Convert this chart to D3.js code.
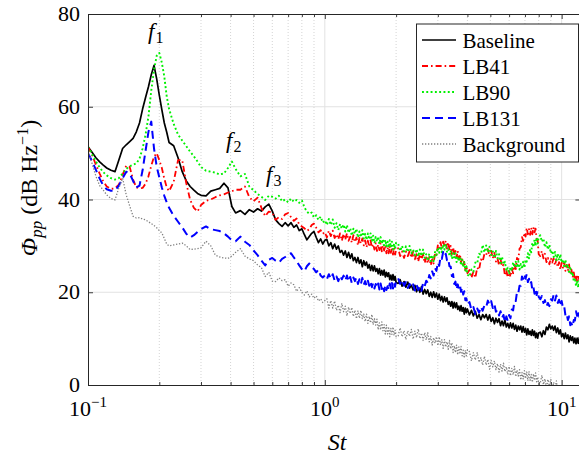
<!DOCTYPE html>
<html>
<head>
<meta charset="utf-8">
<script src="https://cdn.jsdelivr.net/npm/d3@7"></script>
<style>
  html, body { margin: 0; padding: 0; background: #fff; }
  svg { display: block; }
  text { font-family: "Liberation Serif", "Times New Roman", Tinos; }
</style>
</head>
<body>
<svg id="chart" width="579" height="455"></svg>
<script>
// Strouhal-number grid, low band (smooth part of the spectra)
const stLow = [
  0.100,0.104,0.108,0.112,0.116,0.120,0.125,0.130,0.135,0.140,
  0.145,0.150,0.155,0.160,0.165,0.170,0.175,0.180,0.185,0.190,
  0.195,0.200,0.205,0.210,0.215,0.220,0.230,0.240,0.250,0.260,
  0.270,0.280,0.290,0.300,0.315,0.330,0.345,0.360,0.375,0.390,
  0.405,0.420,0.440,0.460,0.480,0.500,0.520,0.540,0.560,0.580,
  0.600
];
// Strouhal-number grid, high band (broadband, noisy part)
const stHigh = [
  0.62,0.64,0.66,0.68,0.70,0.72,0.74,0.76,0.78,0.80,0.82,0.84,0.86,0.88,0.90,0.92,0.94,0.96,0.98,1.00,
  1.02,1.04,1.06,1.08,1.10,1.12,1.14,1.16,1.18,1.20,1.22,1.24,1.26,1.28,1.30,1.32,1.34,1.36,1.38,1.40,
  1.42,1.44,1.46,1.48,1.50,1.52,1.54,1.56,1.58,1.60,1.62,1.64,1.66,1.68,1.70,1.72,1.74,1.76,1.78,1.80,
  1.82,1.84,1.86,1.88,1.90,1.92,1.94,1.96,1.98,2.00,
  2.04,2.08,2.12,2.16,2.20,2.24,2.28,2.32,2.36,2.40,2.44,2.48,2.52,2.56,2.60,2.64,2.68,2.72,2.76,2.80,
  2.84,2.88,2.92,2.96,3.00,3.04,3.08,3.12,3.16,3.20,3.24,3.28,3.32,3.36,3.40,3.44,3.48,3.52,3.56,3.60,
  3.64,3.68,3.72,3.76,3.80,3.84,3.88,3.92,3.96,4.00,
  4.08,4.16,4.24,4.32,4.40,4.48,4.56,4.64,4.72,4.80,4.88,4.96,5.04,5.12,5.20,5.28,5.36,5.44,5.52,5.60,
  5.68,5.76,5.84,5.92,6.00,6.08,6.16,6.24,6.32,6.40,6.48,6.56,6.64,6.72,6.80,6.88,6.96,7.04,7.12,7.20,
  7.28,7.36,7.44,7.52,7.60,7.68,7.76,7.84,7.92,8.00,
  8.125,8.25,8.375,8.5,8.625,8.75,8.875,9.0,9.125,9.25,9.375,9.5,9.625,9.75,9.875,10.0,
  10.125,10.25,10.375,10.5,10.625,10.75,10.875,11.0,11.125,11.25,11.375,11.5,11.625,11.75,11.875,12.0
];

// Pressure spectra, dB/Hz
const baselineLow = [
  51.4,50.2,49.0,48.1,47.4,46.8,46.3,46.0,48.5,51.0,
  51.8,52.5,53.2,54.6,56.5,59.5,62.0,64.3,66.9,68.9,
  66.0,62.5,59.4,56.5,54.5,52.3,51.6,49.0,46.0,44.0,
  42.8,42.0,41.3,40.9,40.8,41.8,42.1,42.4,43.5,42.5,
  38.5,37.1,37.6,36.8,37.8,37.3,38.0,37.5,38.4,39.0,
  37.5
];
const baselineHigh = [
  35.6,34.8,34.2,35.0,34.3,35.0,34.0,34.5,33.3,33.7,32.4,31.3,32.0,32.7,33.1,31.8,30.7,31.5,30.4,31.2,
  31.4,30.0,30.7,29.4,30.4,29.3,30.0,28.6,29.0,28.0,28.9,27.5,28.6,27.3,28.3,26.8,27.5,26.4,27.5,26.2,
  27.0,25.5,26.8,25.8,26.5,25.2,26.0,24.7,25.8,24.6,25.7,24.5,25.1,24.0,25.1,23.7,24.7,23.7,24.8,23.3,
  24.3,23.4,24.2,22.7,23.7,22.6,23.8,22.6,23.4,22.1,
  21.9,22.7,21.3,22.3,21.1,22.2,20.9,21.5,20.5,21.5,20.1,21.0,20.0,21.2,19.6,20.6,19.7,20.5,19.1,20.0,
  18.9,20.1,18.9,19.8,18.5,19.6,18.2,19.1,17.9,19.0,18.0,18.8,17.4,18.0,17.0,18.0,16.6,17.8,16.7,17.7,
  16.3,17.0,16.0,17.1,15.9,16.7,15.3,16.6,15.6,16.4,
  15.1,16.1,14.9,15.9,14.4,15.2,14.1,15.2,14.5,15.2,14.0,15.1,13.7,14.5,13.2,14.4,13.5,14.3,12.8,13.8,
  12.8,14.0,12.5,13.3,12.3,13.4,12.3,13.3,12.0,12.9,11.6,12.7,11.9,12.7,11.4,12.6,11.4,12.2,10.8,12.1,
  10.9,11.6,10.7,11.9,10.7,11.6,10.2,11.2,10.1,11.2,
  11.4,10.4,11.7,10.9,12.5,11.9,13.1,12.1,12.7,11.8,12.7,11.3,12.3,11.0,11.9,10.4,
  11.1,10.0,11.2,10.0,10.8,9.3,10.6,9.6,10.4,9.1,10.1,8.9,10.1,9.0,10.2,9.0
];

const lb41Low = [
  51.4,49.6,47.5,45.6,43.9,42.8,42.3,42.4,43.2,45.3,
  47.3,47.0,44.3,42.6,42.4,42.5,43.4,45.0,47.3,49.2,
  50.0,48.5,46.8,44.5,42.6,41.8,43.8,48.5,48.5,43.5,
  39.9,38.2,37.4,38.8,39.7,40.0,40.5,40.9,41.1,41.5,
  41.8,42.1,42.1,42.8,40.5,39.6,40.4,38.2,36.4,37.4,
  37.2
];
const lb41High = [
  35.6,36.2,35.8,36.8,37.1,36.2,35.4,35.9,34.6,34.2,33.8,33.2,33.6,34.5,34.8,33.9,32.9,33.4,32.6,33.0,
  31.8,33.3,32.1,33.3,31.7,32.5,31.4,32.7,31.1,32.6,31.3,32.7,31.1,32.0,30.7,32.3,30.8,31.8,30.1,31.7,
  30.5,31.6,30.1,31.2,29.7,31.1,29.8,31.2,29.7,30.4,29.2,30.6,28.9,30.3,29.1,30.6,28.8,30.1,29.0,30.1,
  28.4,29.7,28.4,30.0,28.5,29.7,28.1,29.6,28.1,29.2,
  29.5,27.8,28.8,27.4,28.8,27.8,28.8,27.4,28.8,27.1,28.2,26.6,28.2,27.1,28.2,26.3,27.5,26.2,27.6,25.8,
  27.1,26.2,28.4,28.0,30.1,29.4,30.8,29.4,30.9,30.1,31.1,29.4,30.8,29.1,30.0,28.2,29.7,28.2,28.9,27.5,
  28.9,27.3,28.2,26.4,27.5,25.8,26.8,24.7,25.7,24.1,
  24.8,23.1,24.4,23.1,25.3,24.8,27.1,26.6,28.3,28.0,29.3,27.7,28.9,27.3,28.5,26.6,27.3,25.8,27.2,25.5,
  25.9,23.6,24.8,23.2,24.6,23.3,25.0,24.1,25.9,25.0,27.4,27.0,29.4,29.7,31.9,31.1,32.8,32.0,33.9,32.5,
  33.6,32.4,33.9,32.5,34.0,32.9,33.7,31.5,31.2,28.2,
  27.8,28.9,27.3,28.3,26.5,27.4,26.0,27.4,26.4,27.3,25.8,27.1,25.4,26.5,24.9,26.4,
  25.3,26.4,24.6,25.9,24.6,26.0,24.1,24.9,23.2,24.3,22.7,23.7,22.4,23.8,22.5,24.1
];

const lb90Low = [
  51.4,49.8,48.2,46.9,45.9,45.2,44.6,44.3,44.6,45.6,
  46.6,47.2,47.5,47.8,48.8,51.0,54.0,57.9,63.5,68.0,
  71.0,71.6,69.5,66.5,62.2,59.5,56.3,54.0,52.7,51.5,
  50.3,49.3,48.2,47.0,46.2,46.0,45.8,45.4,45.6,46.8,
  48.2,46.6,45.0,45.5,42.8,42.0,41.2,40.6,39.9,40.8,
  40.6
];
const lb90High = [
  40.2,40.8,39.6,40.0,39.4,40.2,39.5,39.9,39.3,39.8,38.3,37.4,36.9,37.2,36.1,36.6,35.6,36.3,35.0,35.5,
  34.5,35.8,34.5,35.7,33.9,34.9,33.4,34.7,33.7,34.6,33.1,34.5,32.8,33.8,32.2,33.7,32.6,33.7,31.8,33.1,
  31.9,33.4,31.6,32.6,31.3,32.7,31.4,32.7,31.1,32.2,30.6,31.9,30.9,32.0,30.4,31.9,30.4,31.4,29.7,31.3,
  29.9,30.9,29.6,31.2,29.7,30.9,29.2,30.5,29.3,30.7,
  30.5,28.9,30.0,28.4,29.9,28.7,30.0,28.4,29.2,28.0,29.3,27.7,29.2,27.8,29.2,27.4,28.2,26.8,28.3,26.7,
  28.0,26.7,28.7,28.0,29.6,28.5,29.9,28.6,30.3,29.2,30.4,28.7,29.3,27.8,29.0,27.2,28.4,27.1,28.4,26.5,
  27.7,26.6,27.6,25.8,27.0,25.4,26.5,24.7,25.6,23.8,
  23.4,24.9,24.4,26.4,26.2,28.3,28.1,30.2,28.6,30.1,28.6,29.8,28.0,28.8,27.4,28.9,27.3,28.2,26.3,27.7,
  26.0,26.6,24.6,25.3,23.9,25.4,24.6,26.5,25.4,26.6,25.3,26.7,24.9,26.1,25.0,26.6,25.3,27.0,26.6,28.4,
  27.3,29.3,28.6,30.7,29.7,31.3,30.0,31.8,30.5,31.9,
  32.3,30.9,31.6,29.7,30.8,29.2,30.2,28.4,29.0,27.6,28.7,26.9,28.3,26.9,28.2,26.4,
  27.1,25.6,27.0,25.3,26.0,24.0,25.2,23.6,24.3,22.3,23.1,21.3,22.5,21.0,22.5,21.1
];

const lb131Low = [
  50.0,48.3,46.4,44.5,43.0,42.2,41.9,41.9,43.0,44.6,
  46.0,45.6,44.0,42.6,43.0,46.3,50.5,54.6,56.8,51.0,
  47.1,44.8,42.6,40.8,39.4,38.2,36.5,35.2,34.0,32.6,
  31.8,32.3,33.0,33.6,34.2,33.6,33.4,33.2,32.7,32.0,
  31.2,31.0,32.0,30.9,30.2,29.0,28.0,26.8,25.8,27.0,
  27.4
];
const lb131High = [
  26.8,26.4,27.2,27.6,28.2,28.4,27.5,26.7,25.8,25.0,24.5,25.6,26.2,25.4,25.0,24.3,24.9,23.6,23.2,23.6,
  22.8,23.9,22.9,23.9,22.5,23.4,22.4,23.6,22.8,23.6,22.5,23.6,22.3,23.3,22.0,23.2,22.4,23.2,21.8,22.8,
  21.8,23.1,21.6,22.4,21.4,22.5,21.4,22.4,21.1,22.0,20.8,21.8,21.0,21.9,20.6,21.9,20.7,21.5,20.2,21.5,
  20.5,21.3,20.5,21.9,20.8,22.0,20.8,22.1,21.2,22.6,
  23.0,21.8,22.7,21.4,22.2,20.9,21.8,21.0,21.7,20.4,21.6,20.5,21.3,20.3,22.0,21.3,22.5,22.0,23.7,23.0,
  24.5,23.6,25.2,24.6,26.4,25.7,27.6,27.2,28.7,27.8,28.3,26.9,27.2,25.6,25.5,23.5,23.9,21.8,22.3,20.6,
  21.7,20.8,21.5,20.1,21.0,19.5,20.2,18.3,18.7,17.3,
  17.9,16.2,16.8,15.3,16.5,15.6,16.9,16.0,17.2,16.8,18.2,17.3,18.1,16.6,17.4,15.8,16.2,15.0,15.9,14.5,
  15.1,13.5,14.8,13.8,15.1,14.4,16.3,16.1,18.2,18.1,20.1,19.8,21.4,21.4,23.4,22.9,23.9,22.9,23.9,22.2,
  22.9,21.7,22.2,20.5,21.1,19.7,20.7,19.4,20.3,19.0,
  18.5,19.2,17.7,18.3,16.9,17.7,17.0,18.5,18.2,19.4,18.2,19.3,17.7,18.4,17.0,18.1,
  16.7,17.0,15.0,15.4,14.0,14.8,12.9,13.3,12.6,14.0,13.9,15.9,14.9,16.1,14.7,15.6
];

const backgroundLow = [
  50.4,47.8,45.0,43.0,42.0,41.0,40.2,39.9,42.5,44.6,
  41.0,38.6,36.4,36.0,36.1,35.8,35.6,35.2,34.8,34.4,
  33.9,33.3,32.8,31.6,30.4,30.0,30.2,30.4,30.6,30.0,
  29.2,29.3,29.4,29.6,31.0,30.0,28.0,27.6,27.4,27.3,
  27.8,28.6,29.4,27.8,27.2,26.8,25.9,25.3,23.4,24.3,
  22.4
];
const backgroundHigh = [
  22.3,23.1,22.5,22.7,21.3,22.0,21.6,20.2,21.0,20.0,19.4,20.3,19.0,19.6,18.7,19.2,18.1,18.6,17.8,18.2,
  18.6,16.6,18.2,16.6,18.1,16.1,17.2,15.6,17.6,15.8,17.0,14.9,16.8,15.4,16.7,14.8,16.1,14.3,16.0,14.4,
  16.1,14.3,15.3,13.7,15.3,13.3,14.8,13.4,15.2,13.0,14.3,12.9,14.2,11.9,13.4,11.9,13.6,11.7,13.0,11.0,
  12.9,11.0,12.3,10.4,12.2,10.9,12.5,10.7,11.8,10.4,
  10.6,12.3,10.4,11.7,9.8,11.7,10.5,12.0,9.9,11.6,10.2,12.1,10.0,11.2,9.6,11.3,9.7,11.3,9.3,10.5,
  8.6,10.2,9.0,10.4,8.5,10.4,8.6,9.8,7.9,9.8,8.2,9.3,7.7,9.6,7.8,9.1,7.0,8.5,7.0,8.6,
  6.5,8.2,6.7,8.3,6.3,7.5,5.8,7.5,6.3,7.6,
  7.2,5.2,7.0,5.4,7.0,4.9,5.9,4.3,6.2,4.3,5.5,3.4,5.3,3.9,5.2,3.3,4.6,2.8,4.5,3.0,
  4.7,2.9,3.9,2.3,4.0,2.0,3.6,2.2,4.0,1.8,3.2,1.9,3.3,1.1,2.7,1.3,3.1,1.4,2.8,0.9,
  2.9,1.0,2.3,0.6,2.4,1.0,2.6,0.7,1.7,0.2,
  0.4,2.1,0.1,1.3,-0.7,1.2,-0.2,1.2,-1.0,0.6,-0.9,0.9,-1.3,-0.1,-1.8,-0.1,
  -1.7,-0.1,-2.1,-0.8,-2.8,-1.2,-2.5,-1.1,-3.1,-1.3,-3.2,-2.0,-4.0,-2.2,-3.9,-2.8
];

const seriesNames = ["Baseline", "LB41", "LB90", "LB131", "Background"];
const yTickValues = [0, 20, 40, 60, 80];
const xMajorTicks = [0.1, 1, 10];
const xMajorExponents = ["\u22121", "0", "1"];

// Line appearance for each series
const styles = {
  "Baseline":   { color: "#000000", width: 1.7, dash: null },
  "LB41":       { color: "#ff0000", width: 1.8, dash: "6,3,1.6,3" },
  "LB90":       { color: "#00f000", width: 1.9, dash: "1.9,2.4" },
  "LB131":      { color: "#0000ff", width: 2.0, dash: "8,5" },
  "Background": { color: "#808080", width: 1.3, dash: "1.3,1.7" }
};
const serif = '"Liberation Serif", "Times New Roman", Tinos';

const lowValues  = [baselineLow, lb41Low, lb90Low, lb131Low, backgroundLow];
const highValues = [baselineHigh, lb41High, lb90High, lb131High, backgroundHigh];

const series = seriesNames.map((name, k) => ({
  name,
  points: stLow.map((s, i) => [s, lowValues[k][i]])
    .concat(stHigh.map((s, i) => [s, highValues[k][i]]))
    .filter(d => d[1] != null)
}));

const svg = d3.select("#chart").style("font-family", serif);
const pLeft = 88, pRight = 580.4, pTop = 14, pBottom = 385;

const x = d3.scaleLog().domain([0.1, 12]).range([pLeft, pRight]);
const y = d3.scaleLinear().domain([0, 80]).range([pBottom, pTop]);

const minorX = x.ticks().filter(v => !xMajorTicks.some(m => Math.abs(m - v) < 1e-9));

// grid
const grid = svg.append("g");
grid.selectAll("line.hgrid").data(yTickValues.filter(v => v > 0 && v < 80)).join("line")
  .attr("x1", pLeft).attr("x2", pRight)
  .attr("y1", d => y(d)).attr("y2", d => y(d))
  .attr("stroke", "#e2e2e2").attr("stroke-width", 1);
grid.selectAll("line.vmajor").data(xMajorTicks.filter(v => v > 0.1)).join("line")
  .attr("x1", d => x(d)).attr("x2", d => x(d))
  .attr("y1", pTop).attr("y2", pBottom)
  .attr("stroke", "#e2e2e2").attr("stroke-width", 1);
grid.selectAll("line.vminor").data(minorX).join("line")
  .attr("x1", d => x(d)).attr("x2", d => x(d))
  .attr("y1", pTop).attr("y2", pBottom)
  .attr("stroke", "#c9c9c9").attr("stroke-width", 0.8)
  .attr("stroke-dasharray", "1,2");

// spectra
svg.append("clipPath").attr("id", "plotClip")
  .append("rect").attr("x", pLeft).attr("y", pTop)
  .attr("width", pRight - pLeft).attr("height", pBottom - pTop);

const line = d3.line().x(d => x(d[0])).y(d => y(d[1]));
const plot = svg.append("g").attr("clip-path", "url(#plotClip)");
series.forEach(s => {
  const st = styles[s.name];
  plot.append("path")
    .attr("d", line(s.points))
    .attr("fill", "none")
    .attr("stroke", st.color)
    .attr("stroke-width", st.width)
    .attr("stroke-linejoin", "round")
    .attr("stroke-dasharray", st.dash);
});

// axes (ticks pointing inward, box on all sides)
const axisColor = "#262626";
const styleAxis = g => {
  g.select(".domain").attr("stroke", axisColor).attr("stroke-width", 1);
  g.selectAll(".tick line").attr("stroke", axisColor).attr("stroke-width", 0.9);
  g.selectAll(".tick text").remove();
};
svg.append("g").attr("transform", `translate(0,${pBottom})`)
  .call(d3.axisBottom(x).tickValues(xMajorTicks).tickSizeInner(-5).tickSizeOuter(0).tickFormat(""))
  .call(styleAxis);
svg.append("g").attr("transform", `translate(0,${pBottom})`)
  .call(d3.axisBottom(x).tickValues(minorX).tickSizeInner(-3).tickSizeOuter(0).tickFormat(""))
  .call(styleAxis);
svg.append("g").attr("transform", `translate(0,${pTop})`)
  .call(d3.axisTop(x).tickValues(xMajorTicks).tickSizeInner(-5).tickSizeOuter(0).tickFormat(""))
  .call(styleAxis);
svg.append("g").attr("transform", `translate(0,${pTop})`)
  .call(d3.axisTop(x).tickValues(minorX).tickSizeInner(-3).tickSizeOuter(0).tickFormat(""))
  .call(styleAxis);
svg.append("g").attr("transform", `translate(${pLeft},0)`)
  .call(d3.axisLeft(y).tickValues(yTickValues).tickSizeInner(-5).tickSizeOuter(0).tickFormat(""))
  .call(styleAxis);
svg.append("g").attr("transform", `translate(${pRight},0)`)
  .call(d3.axisRight(y).tickValues(yTickValues).tickSizeInner(-5).tickSizeOuter(0).tickFormat(""))
  .call(styleAxis);

// tick labels
svg.append("g").selectAll("text").data(yTickValues).join("text")
  .style("font-family", serif)
  .attr("x", pLeft - 8).attr("y", d => y(d)).attr("dy", "0.32em")
  .attr("text-anchor", "end").attr("font-size", 22).attr("fill", "#000")
  .text(d => d);

const xl = svg.append("g").selectAll("text").data(xMajorTicks).join("text")
  .style("font-family", serif)
  .attr("x", d => x(d)).attr("y", 416)
  .attr("text-anchor", "middle").attr("font-size", 22).attr("fill", "#000");
xl.append("tspan").text("10");
xl.append("tspan").attr("font-size", 15).attr("dy", -9).text((d, i) => xMajorExponents[i]);

// axis titles
svg.append("text").attr("x", 337).attr("y", 450)
  .style("font-family", serif)
  .attr("text-anchor", "middle").attr("font-size", 24).attr("font-style", "italic")
  .text("St");

const yl = svg.append("text")
  .style("font-family", serif)
  .attr("transform", "translate(37,188) rotate(-90)")
  .attr("text-anchor", "middle").attr("font-size", 24);
yl.append("tspan").attr("font-style", "italic").text("\u03A6");
yl.append("tspan").attr("font-style", "italic").attr("font-size", 17).attr("dy", 5).text("pp");
yl.append("tspan").attr("dy", -5).text(" (dB Hz");
yl.append("tspan").attr("font-size", 16).attr("dy", -9).text("\u22121");
yl.append("tspan").attr("dy", 9).text(")");

// harmonic labels
const peakLabels = [
  { sub: "1", x: 148, y: 39 },
  { sub: "2", x: 226, y: 148 },
  { sub: "3", x: 266, y: 182 }
];
peakLabels.forEach(p => {
  const t = svg.append("text").style("font-family", serif)
    .attr("x", p.x).attr("y", p.y).attr("font-size", 23);
  t.append("tspan").attr("font-style", "italic").text("f");
  t.append("tspan").attr("font-size", 16).attr("dy", 4).attr("dx", 1).text(p.sub);
});

// legend
const legend = svg.append("g");
legend.append("rect")
  .attr("x", 416.5).attr("y", 24).attr("width", 162).attr("height", 138)
  .attr("fill", "#fff").attr("stroke", axisColor).attr("stroke-width", 1);
seriesNames.forEach((name, i) => {
  const st = styles[name];
  const ry = 40 + i * 26;
  legend.append("line")
    .attr("x1", 422).attr("x2", 456).attr("y1", ry).attr("y2", ry)
    .attr("stroke", st.color).attr("stroke-width", st.width)
    .attr("stroke-dasharray", st.dash);
  legend.append("text")
    .style("font-family", serif)
    .attr("x", 462.5).attr("y", ry + 1).attr("dy", "0.34em")
    .attr("font-size", 21).attr("fill", "#000")
    .text(name);
});
</script>
</body>
</html>
